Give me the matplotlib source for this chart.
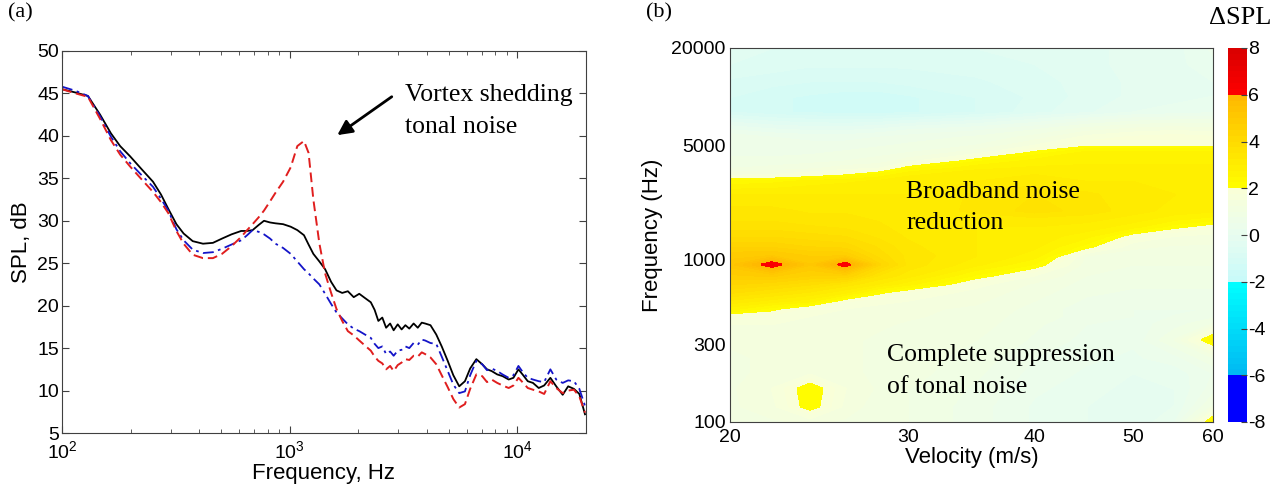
import numpy as np
import matplotlib
matplotlib.use('Agg')
import matplotlib.pyplot as plt
from matplotlib.colors import LinearSegmentedColormap
from matplotlib.ticker import NullLocator

plt.rcParams['font.family'] = ['Liberation Sans', 'DejaVu Sans']
plt.rcParams['mathtext.default'] = 'regular'
plt.rcParams['axes.unicode_minus'] = False
SERIF = ['Liberation Serif', 'DejaVu Serif']

# (a) 频谱曲线
freq_hz = [100, 115, 130, 147, 164, 180, 199, 225, 251, 272, 293, 318, 342, 375, 416, 460,
           504, 555, 612, 650, 687, 730, 771, 820, 866, 935, 1010, 1080, 1155, 1210, 1270,
           1350, 1430, 1520, 1605, 1700, 1800, 1910, 2020, 2140, 2270, 2360, 2450, 2550,
           2650, 2760, 2860, 2980, 3100, 3220, 3350, 3500, 3650, 3800, 3930, 4150, 4400,
           4650, 4940, 5230, 5550, 5880, 6200, 6600, 7000, 7350, 7700, 8150, 8600, 9150,
           9600, 10100, 10600, 11100, 11700, 12400, 13100, 13950, 14800, 15800, 16700,
           17700, 18700, 19800]
spl_black = [45.5, 45.1, 44.7, 42.5, 40.3, 38.8, 37.6, 36.0, 34.6, 33.1, 31.4, 29.6, 28.5,
             27.6, 27.3, 27.4, 27.9, 28.4, 28.8, 28.8, 28.9, 29.5, 30.0, 29.8, 29.7, 29.6,
             29.3, 28.9, 28.3, 27.2, 26.1, 25.2, 24.3, 22.8, 21.8, 21.5, 21.7, 21.0, 21.4,
             20.9, 20.4, 19.5, 18.2, 18.6, 17.4, 17.9, 17.1, 17.8, 17.2, 17.7, 17.3, 17.9,
             17.4, 18.0, 17.9, 17.7, 16.6, 15.2, 13.5, 11.8, 10.5, 11.1, 12.6, 13.7, 13.1,
             12.5, 12.3, 11.9, 11.7, 11.3, 11.5, 12.5, 11.8, 11.1, 10.9, 10.3, 10.6, 11.5,
             10.5, 9.5, 10.5, 10.2, 9.6, 7.2]
spl_red = [45.5, 45.0, 44.6, 42.0, 39.5, 37.8, 36.4, 34.8, 33.4, 32.2, 30.9, 28.8, 27.3,
           26.0, 25.6, 25.6, 26.1, 27.0, 28.1, 28.9, 29.6, 30.4, 31.2, 32.3, 33.3, 34.6,
           36.3, 38.8, 39.4, 38.0, 32.5, 27.3, 23.8, 21.5, 19.6, 18.2, 17.0, 16.5, 15.9,
           15.3, 14.7, 14.0, 13.5, 13.2, 12.5, 12.9, 12.3, 13.0, 13.3, 13.7, 13.6, 14.1,
           14.0, 14.5, 14.3, 13.9, 13.1, 11.8, 10.4, 9.0, 8.0, 8.4, 10.2, 11.9, 11.7, 11.0,
           11.3, 10.9, 10.6, 10.3, 10.6, 11.5, 10.9, 10.3, 10.1, 9.9, 9.6, 11.1, 10.3, 9.7,
           10.0, 10.1, 9.3, 7.4]
spl_blue = [45.8, 45.3, 44.7, 42.3, 39.9, 38.2, 36.8, 35.3, 34.0, 32.6, 31.2, 29.0, 27.7,
            26.6, 26.2, 26.3, 26.7, 27.2, 27.7, 28.3, 28.9, 28.7, 28.4, 27.9, 27.3, 26.8,
            26.1, 25.2, 24.3, 23.8, 23.2, 22.5, 21.4, 20.2, 19.2, 18.5, 17.8, 17.3, 17.0,
            16.6, 16.2, 15.5, 15.0, 15.2, 14.3, 14.6, 14.1, 14.7, 14.8, 15.2, 15.0, 15.6,
            15.4, 16.0, 15.9, 15.6, 15.5, 14.0, 12.3, 10.7, 9.7, 9.9, 11.8, 13.5, 13.1, 12.4,
            12.6, 12.3, 11.9, 11.5, 11.8, 12.9, 12.1, 11.5, 11.3, 11.1, 11.0, 12.5, 11.3,
            10.9, 11.2, 11.1, 10.2, 8.2]

# (b) ΔSPL 云图: 行 = 频率, 列 = 速度
velocity = [20, 22, 24, 26, 28, 30, 35, 40, 45, 50, 55, 60]
freq_grid = [100, 125, 160, 200, 250, 320, 400, 450, 500, 560, 630, 710, 800, 930, 1050,
             1200, 1400, 1600, 1800, 2000, 2500, 3000, 3300, 3600, 4000, 4500, 5000, 5600,
             6300, 8000, 10000, 12500, 16000, 20000]
dspl = [
    [1.2, 1.2, 1.3, 1.2, 1.1, 1.0, 0.6, 0.2, 0.0, -0.2, 0.2, 2.4],
    [1.2, 1.4, 2.2, 1.4, 1.1, 1.0, 0.6, 0.2, 0.0, -0.2, 0.0, 1.0],
    [1.2, 1.5, 2.25, 1.5, 1.2, 1.0, 0.7, 0.3, 0.1, -0.1, 0.0, 0.6],
    [1.2, 1.3, 1.4, 1.3, 1.2, 1.1, 0.8, 0.4, 0.2, 0.0, 0.1, 0.5],
    [1.2, 1.3, 1.3, 1.3, 1.2, 1.1, 0.9, 0.5, 0.3, 0.2, 0.4, 1.0],
    [1.3, 1.3, 1.3, 1.3, 1.2, 1.2, 1.0, 0.7, 0.4, 0.3, 1.0, 2.4],
    [1.5, 1.5, 1.4, 1.4, 1.3, 1.2, 1.1, 0.8, 0.5, 0.4, 0.6, 1.0],
    [1.7, 1.7, 1.5, 1.4, 1.4, 1.3, 1.1, 0.9, 0.6, 0.5, 0.5, 0.6],
    [2.6, 2.1, 1.6, 1.5, 1.4, 1.3, 1.2, 0.9, 0.6, 0.5, 0.5, 0.5],
    [3.2, 2.9, 2.6, 1.8, 1.6, 1.5, 1.3, 1.0, 0.7, 0.6, 0.6, 0.6],
    [3.8, 3.5, 3.2, 2.8, 2.1, 1.7, 1.4, 1.1, 0.8, 0.7, 0.7, 0.7],
    [4.3, 4.1, 3.8, 3.4, 3.0, 2.6, 1.6, 1.2, 0.9, 0.8, 0.8, 0.8],
    [4.7, 4.8, 4.5, 4.5, 3.5, 3.1, 2.2, 1.5, 1.0, 0.9, 0.9, 0.9],
    [5.1, 6.3, 5.0, 6.25, 4.3, 3.4, 2.8, 2.2, 1.1, 1.0, 1.0, 1.0],
    [4.9, 5.0, 4.7, 4.7, 3.9, 3.4, 3.0, 2.6, 1.2, 1.1, 1.1, 1.1],
    [4.4, 4.4, 4.2, 4.1, 3.7, 3.3, 3.0, 2.8, 2.1, 1.3, 1.2, 1.2],
    [3.9, 3.9, 3.8, 3.7, 3.4, 3.2, 3.0, 2.9, 2.6, 1.8, 1.5, 1.4],
    [3.6, 3.6, 3.5, 3.4, 3.3, 3.1, 3.0, 3.0, 2.9, 2.6, 2.1, 1.8],
    [3.4, 3.4, 3.3, 3.3, 3.2, 3.1, 3.1, 3.2, 3.1, 2.9, 2.6, 2.4],
    [3.3, 3.3, 3.2, 3.2, 3.1, 3.1, 3.3, 3.6, 3.4, 3.1, 2.9, 2.8],
    [3.0, 3.0, 3.0, 3.0, 3.0, 3.0, 3.3, 3.5, 3.3, 3.1, 3.0, 2.9],
    [2.3, 2.4, 2.6, 2.7, 2.8, 2.9, 3.0, 3.1, 3.0, 3.0, 2.9, 2.9],
    [1.4, 1.5, 1.7, 1.95, 2.3, 2.7, 2.9, 3.0, 2.9, 2.9, 2.9, 2.9],
    [1.0, 1.1, 1.2, 1.4, 1.5, 2.2, 2.7, 2.8, 2.8, 2.8, 2.8, 2.8],
    [0.8, 0.8, 0.9, 1.0, 1.1, 1.4, 2.2, 2.6, 2.7, 2.7, 2.7, 2.7],
    [0.7, 0.7, 0.7, 0.8, 0.9, 1.0, 1.4, 2.1, 2.6, 2.6, 2.6, 2.6],
    [0.6, 0.6, 0.6, 0.6, 0.7, 0.8, 1.0, 1.5, 1.9, 1.9, 1.9, 1.9],
    [0.7, 0.5, 0.4, 0.4, 0.5, 0.6, 0.8, 1.1, 1.6, 1.8, 1.9, 1.8],
    [0.2, 0.0, -0.1, -0.1, 0.0, 0.2, 0.4, 0.7, 1.1, 1.3, 1.4, 1.3],
    [-1.0, -1.2, -1.3, -1.4, -1.4, -1.3, -1.0, -0.6, -0.3, 0.0, 0.1, 0.2],
    [-1.0, -1.2, -1.3, -1.4, -1.4, -1.3, -1.0, -0.7, -0.4, -0.2, -0.1, 0.0],
    [-0.8, -0.9, -1.0, -1.0, -1.0, -0.9, -0.8, -0.6, -0.4, -0.2, -0.1, 0.0],
    [-0.5, -0.6, -0.7, -0.7, -0.7, -0.7, -0.6, -0.5, -0.3, -0.2, -0.1, 0.2],
    [-0.4, -0.5, -0.5, -0.5, -0.5, -0.5, -0.5, -0.4, -0.3, -0.2, -0.1, 0.3],
]

# 分段色表 (-8..8), 在 -6, -2, 2, 6 处跳变
cdict = {
    'red':   [(0.0, 0.0, 0.0), (0.125, 0.0, 0.0), (0.375, 0.0, 0.78), (0.5, 0.91, 0.91),
              (0.625, 0.98, 1.0), (0.875, 1.0, 1.0), (1.0, 0.85, 0.85)],
    'green': [(0.0, 0.0, 0.0), (0.125, 0.0, 0.72), (0.375, 1.0, 0.98), (0.5, 0.99, 0.99),
              (0.625, 1.0, 1.0), (0.875, 0.72, 0.0), (1.0, 0.0, 0.0)],
    'blue':  [(0.0, 1.0, 1.0), (0.125, 1.0, 0.95), (0.375, 1.0, 0.98), (0.5, 0.94, 0.94),
              (0.625, 0.84, 0.0), (0.875, 0.0, 0.0), (1.0, 0.0, 0.0)],
}
cmap = LinearSegmentedColormap('dspl', cdict, N=512)

fig = plt.figure(figsize=(12.81, 4.88), dpi=100)
W, H = 1281, 488

def px_axes(x0, y0, x1, y1):
    return fig.add_axes([x0 / W, 1 - y1 / H, (x1 - x0) / W, (y1 - y0) / H])

spine_col = '#404040'

# ---- (a) ----
ax1 = px_axes(62, 51, 586, 433)
ax1.plot(freq_hz, spl_black, color='k', lw=1.3)
ax1.plot(freq_hz, spl_blue, color='#1414c8', lw=1.3, linestyle=(0, (6, 2.5, 1.5, 2.5)))
ax1.plot(freq_hz, spl_red, color='#e01e1e', lw=1.4, linestyle=(0, (5, 2.5)))
ax1.set_xscale('log')
ax1.set_xlim(100, 20000)
ax1.set_ylim(5, 50)
ax1.set_yticks(range(5, 51, 5))
ax1.tick_params(which='both', direction='in', top=True, right=True, colors=spine_col,
                labelcolor='k', labelsize=14)
ax1.tick_params(which='major', length=5)
ax1.tick_params(axis='x', pad=5)
ax1.tick_params(axis='y', pad=2)
ax1.tick_params(which='minor', length=3)
for s in ax1.spines.values():
    s.set_color(spine_col)
ax1.set_xlabel('Frequency, Hz', fontsize=16, labelpad=1)
ax1.set_ylabel('SPL, dB', fontsize=16, labelpad=4)
ax1.annotate('', xy=(1581, 39.9), xytext=(2871, 44.8),
             arrowprops=dict(arrowstyle='-|>', lw=2, color='k', mutation_scale=22))
ax1.text(3209, 44.8, 'Vortex shedding', family=SERIF, fontsize=18.5, va='center', ha='left')
ax1.text(3209, 41.0, 'tonal noise', family=SERIF, fontsize=18.5, va='center', ha='left')

# ---- (b) ----
ax2 = px_axes(730, 48, 1213, 422)
V, F = np.meshgrid(velocity, freq_grid)
levels = np.linspace(-8, 8, 65)
cs = ax2.contourf(V, F, np.array(dspl), levels=levels, cmap=cmap, vmin=-8, vmax=8)
cs.set_edgecolor('face')
ax2.set_xscale('log')
ax2.set_yscale('log')
ax2.set_xlim(20, 60)
ax2.set_ylim(100, 20000)
ax2.xaxis.set_minor_locator(NullLocator())
ax2.yaxis.set_minor_locator(NullLocator())
ax2.set_xticks([20, 30, 40, 50, 60], ['20', '30', '40', '50', '60'])
ax2.set_yticks([100, 300, 1000, 5000, 20000], ['100', '300', '1000', '5000', '20000'])
ax2.tick_params(length=0, labelsize=14)
ax2.tick_params(axis='x', pad=5)
ax2.tick_params(axis='y', pad=3)
for s in ax2.spines.values():
    s.set_color(spine_col)
ax2.set_xlabel('Velocity (m/s)', fontsize=16, labelpad=1)
ax2.set_ylabel('Frequency (Hz)', fontsize=16, labelpad=6)
ax2.text(29.85, 2600, 'Broadband noise', family=SERIF, fontsize=18.5, va='center')
ax2.text(29.85, 1680, 'reduction', family=SERIF, fontsize=18.5, va='center')
ax2.text(28.6, 258, 'Complete suppression', family=SERIF, fontsize=18.5, va='center')
ax2.text(28.6, 164, 'of tonal noise', family=SERIF, fontsize=18.5, va='center')

cax = px_axes(1228, 48, 1247, 422)
cb = fig.colorbar(cs, cax=cax, ticks=range(-8, 9, 2))
cb.outline.set_visible(False)
cax.tick_params(direction='in', length=4, colors=spine_col, labelcolor='k', labelsize=14, pad=1)

fig.text(8 / W, 1 - 13 / H, '(a)', family=SERIF, fontsize=16, va='center')
fig.text(646 / W, 1 - 13 / H, '(b)', family=SERIF, fontsize=16, va='center')
fig.text(1240 / W, 1 - 18 / H, 'ΔSPL', family=SERIF, fontsize=19, va='center', ha='center')

fig.savefig('out.png', dpi=100)
